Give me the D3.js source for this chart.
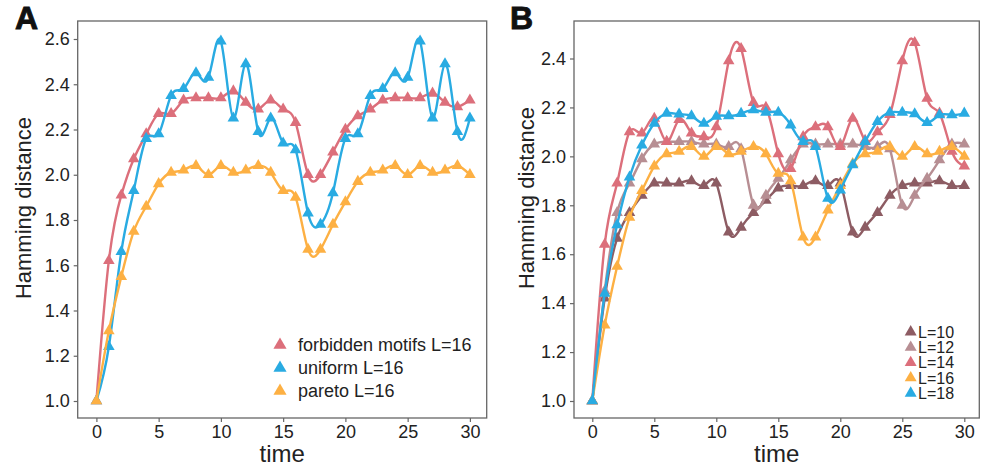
<!DOCTYPE html>
<html>
<head>
<meta charset="utf-8">
<script src="https://cdn.jsdelivr.net/npm/d3@7"></script>
<style>
  html, body { margin: 0; padding: 0; background: #fff; }
  svg { display: block; font-family: "Liberation Sans", Arial, Helvetica, sans-serif; }
</style>
</head>
<body>
<svg id="chart" width="982" height="474"></svg>
<script>
// Time steps shared by every series
const timeSteps = [0, 1, 2, 3, 4, 5, 6, 7, 8, 9, 10, 11, 12, 13, 14, 15, 16, 17, 18, 19, 20, 21, 22, 23, 24, 25, 26, 27, 28, 29, 30];

// Panel A: mean Hamming distance for three mutation models, L=16
const forbiddenMotifs = [1.00, 1.62, 1.91, 2.07, 2.18, 2.27, 2.27, 2.33, 2.34, 2.34, 2.34, 2.37, 2.32, 2.29, 2.33, 2.29, 2.23, 2.00, 2.00, 2.10, 2.20, 2.26, 2.29, 2.33, 2.34, 2.34, 2.34, 2.36, 2.32, 2.30, 2.33];
const uniform = [1.00, 1.24, 1.66, 1.93, 2.16, 2.18, 2.35, 2.38, 2.45, 2.43, 2.59, 2.25, 2.49, 2.19, 2.25, 2.14, 2.11, 1.83, 1.78, 1.92, 2.16, 2.18, 2.35, 2.38, 2.45, 2.43, 2.59, 2.25, 2.49, 2.19, 2.25];
const pareto = [1.00, 1.31, 1.55, 1.75, 1.86, 1.96, 2.01, 2.02, 2.04, 2.00, 2.04, 2.01, 2.02, 2.04, 2.01, 1.93, 1.90, 1.67, 1.67, 1.78, 1.88, 1.97, 2.01, 2.02, 2.04, 2.00, 2.04, 2.01, 2.02, 2.04, 2.00];

// Panel B: mean Hamming distance for different sequence lengths
const len10 = [1.00, 1.42, 1.665, 1.77, 1.84, 1.89, 1.89, 1.89, 1.90, 1.88, 1.89, 1.69, 1.71, 1.77, 1.82, 1.87, 1.88, 1.88, 1.90, 1.88, 1.89, 1.69, 1.71, 1.77, 1.84, 1.88, 1.89, 1.89, 1.90, 1.88, 1.88];
const len12 = [1.00, 1.45, 1.77, 1.89, 1.99, 2.05, 2.06, 2.06, 2.06, 2.05, 2.05, 2.04, 2.03, 1.80, 1.84, 1.91, 1.985, 2.05, 2.05, 2.05, 2.05, 2.05, 2.04, 2.04, 2.03, 1.80, 1.84, 1.91, 1.985, 2.05, 2.05];
const len14 = [1.00, 1.64, 1.89, 2.10, 2.095, 2.155, 2.06, 2.15, 2.095, 2.08, 2.12, 2.39, 2.44, 2.22, 2.20, 2.01, 1.95, 2.08, 2.12, 2.12, 2.04, 2.155, 2.065, 2.10, 2.17, 2.39, 2.465, 2.237, 2.176, 2.02, 1.96];
const len16 = [1.00, 1.31, 1.55, 1.75, 1.86, 1.96, 2.01, 2.02, 2.04, 2.00, 2.04, 2.01, 2.02, 2.04, 2.01, 1.93, 1.90, 1.67, 1.67, 1.78, 1.88, 1.97, 2.01, 2.02, 2.04, 2.00, 2.04, 2.01, 2.02, 2.04, 2.00];
const len18 = [1.00, 1.44, 1.72, 1.915, 2.046, 2.135, 2.176, 2.172, 2.165, 2.135, 2.163, 2.165, 2.175, 2.19, 2.18, 2.18, 2.128, 2.06, 2.04, 1.828, 1.862, 1.965, 2.06, 2.142, 2.18, 2.18, 2.173, 2.138, 2.169, 2.169, 2.176];

// Tick labels
const xTicks = [0, 5, 10, 15, 20, 25, 30];
const yTicksA = [1.0, 1.2, 1.4, 1.6, 1.8, 2.0, 2.2, 2.4, 2.6];
const yTicksB = [1.0, 1.2, 1.4, 1.6, 1.8, 2.0, 2.2, 2.4];

// Legend labels
const labelsA = ["forbidden motifs L=16", "uniform L=16", "pareto L=16"];
const labelsB = ["L=10", "L=12", "L=14", "L=16", "L=18"];

const RED = "#dc6f7b", BLUE = "#29abe2", ORANGE = "#fdb043", BROWN = "#8d5c63", MAUVE = "#b78e93";

const svg = d3.select("#chart");
const TEXT = "#222";
const FRAME = "#666";

function drawPanel(cfg) {
  const g = svg.append("g");
  const x = d3.scaleLinear().domain([0, 30]).range(cfg.xRange);
  const y = d3.scaleLinear().domain(cfg.yDomain).range(cfg.yRange);

  // plotting frame
  g.append("rect")
    .attr("x", cfg.box[0]).attr("y", cfg.box[1])
    .attr("width", cfg.box[2] - cfg.box[0]).attr("height", cfg.box[3] - cfg.box[1])
    .attr("fill", "none").attr("stroke", FRAME).attr("stroke-width", 1.3);

  // x axis
  const xAxis = d3.axisBottom(x).tickValues(xTicks).tickSize(4).tickPadding(3).tickFormat(d3.format("d"));
  const gx = g.append("g").attr("transform", `translate(0,${cfg.box[3]})`).call(xAxis);
  gx.select(".domain").remove();
  gx.selectAll(".tick line").attr("stroke", FRAME).attr("stroke-width", 1.2);
  gx.selectAll(".tick text").attr("fill", TEXT).attr("font-size", 18)
    .attr("font-family", "'Liberation Sans', Arial, sans-serif");

  // y axis
  const yAxis = d3.axisLeft(y).tickValues(cfg.yTicks).tickSize(4).tickPadding(4).tickFormat(d3.format(".1f"));
  const gy = g.append("g").attr("transform", `translate(${cfg.box[0]},0)`).call(yAxis);
  gy.select(".domain").remove();
  gy.selectAll(".tick line").attr("stroke", FRAME).attr("stroke-width", 1.2);
  gy.selectAll(".tick text").attr("fill", TEXT).attr("font-size", 18)
    .attr("font-family", "'Liberation Sans', Arial, sans-serif");

  // axis titles
  g.append("text").attr("x", (cfg.box[0] + cfg.box[2]) / 2).attr("y", 462)
    .attr("text-anchor", "middle").attr("font-size", 24).attr("fill", TEXT).text("time");
  g.append("text")
    .attr("transform", `translate(${cfg.yTitleX},${cfg.yTitleY}) rotate(-90)`)
    .attr("text-anchor", "middle").attr("font-size", 22).attr("fill", TEXT).text("Hamming distance");

  // panel letter
  g.append("text").attr("x", cfg.letterX).attr("y", 29)
    .attr("font-size", 32).attr("font-weight", "bold").attr("fill", "#111")
    .attr("stroke", "#111").attr("stroke-width", 0.9).text(cfg.letter);

  // series: smooth spline through the points, plus triangle markers
  const line = d3.line().x((d, i) => x(timeSteps[i])).y(d => y(d)).curve(d3.curveNatural);
  const tri = d3.symbol().type(d3.symbolTriangle).size(cfg.markerSize);
  cfg.series.forEach(s => {
    g.append("path").datum(s.values).attr("d", line)
      .attr("fill", "none").attr("stroke", s.color).attr("stroke-width", 2.4);
    g.append("g").selectAll("path").data(s.values).join("path")
      .attr("d", tri)
      .attr("transform", (d, i) => `translate(${x(timeSteps[i])},${y(d)})`)
      .attr("fill", s.color);
  });

  // legend
  const lg = g.append("g");
  cfg.series.forEach((s, i) => {
    const cy = cfg.legendY + i * cfg.legendStep;
    lg.append("path").attr("d", d3.symbol().type(d3.symbolTriangle).size(cfg.legendMarker)())
      .attr("transform", `translate(${cfg.legendX},${cy})`).attr("fill", s.color);
    lg.append("text").attr("x", cfg.legendTextX).attr("y", cy).attr("dy", "0.36em")
      .attr("font-size", cfg.legendFont).attr("fill", TEXT).text(s.label);
  });
}

drawPanel({
  letter: "A", letterX: 15,
  box: [77.7, 21, 486.7, 418],
  xRange: [96.4, 469.9],
  yDomain: [1.0, 2.6], yRange: [401, 39],
  yTicks: yTicksA,
  yTitleX: 31, yTitleY: 208,
  markerSize: 58,
  series: [
    { values: forbiddenMotifs, color: RED, label: labelsA[0] },
    { values: uniform, color: BLUE, label: labelsA[1] },
    { values: pareto, color: ORANGE, label: labelsA[2] }
  ],
  legendX: 280, legendTextX: 298, legendY: 345, legendStep: 23, legendMarker: 75, legendFont: 18
});

drawPanel({
  letter: "B", letterX: 510,
  box: [574, 21, 979.3, 418],
  xRange: [592.3, 964.3],
  yDomain: [1.0, 2.4], yRange: [401, 58.5],
  yTicks: yTicksB,
  yTitleX: 534, yTitleY: 198,
  markerSize: 58,
  series: [
    { values: len10, color: BROWN, label: labelsB[0] },
    { values: len12, color: MAUVE, label: labelsB[1] },
    { values: len14, color: RED, label: labelsB[2] },
    { values: len16, color: ORANGE, label: labelsB[3] },
    { values: len18, color: BLUE, label: labelsB[4] }
  ],
  legendX: 910.7, legendTextX: 918, legendY: 332, legendStep: 15.3, legendMarker: 62, legendFont: 16
});
</script>
</body>
</html>
